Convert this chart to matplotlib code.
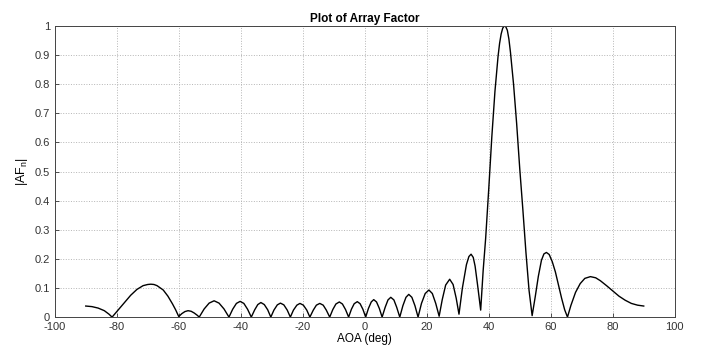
import matplotlib
matplotlib.use("Agg")
import matplotlib.pyplot as plt

aoa = [
    -90, -88, -86, -84, -82.5, -81.5,
    -79.5, -77.5, -75.5, -73.5, -71.5, -70, -69, -68, -67, -65, -63.5, -62, -61, -60,
    -59, -58, -57, -56, -55, -54, -53.4,
    -51.8, -50.2, -48.6, -47, -45.4, -43.8,
    -42.6, -41.4, -40.2, -39.0, -37.8, -36.6,
    -35.5, -34.5, -33.5, -32.4, -31.3, -30.3,
    -29.3, -28.2, -27.2, -26.1, -25, -24,
    -23, -21.9, -20.9, -19.8, -18.7, -17.7,
    -16.6, -15.6, -14.5, -13.4, -12.4, -11.3,
    -10.3, -9.3, -8.2, -7.2, -6.2, -5.2,
    -4.3, -3.4, -2.4, -1.5, -0.6, 0.3,
    1.2, 2.1, 2.9, 3.8, 4.7, 5.6,
    6.6, 7.5, 8.4, 9.4, 10.3, 11.3,
    12.3, 13.3, 14.2, 15.2, 16.2, 17.2,
    18.3, 19.5, 20.7, 21.8, 22.9, 24,
    25, 26.1, 27.4, 28.5, 29.5, 30.4,
    31.5, 32.8, 33.6, 34.3, 35.0, 35.6, 36.4, 37.4,
    38.2, 39, 40, 41, 42, 43, 43.5, 44, 44.5, 45, 45.5, 46, 46.5, 47, 48, 49, 50, 51, 52, 53, 54,
    55, 56, 57, 57.8, 58.6, 59.5, 60.5, 61.5, 62.5, 63.5, 64.5, 65.4,
    66.5, 68, 69.5, 71, 72.8, 74.5, 76, 78, 80, 82, 84, 86, 88, 90,
]
af = [
    0.038, 0.036, 0.031, 0.022, 0.010, 0.0,
    0.025, 0.050, 0.075, 0.095, 0.108, 0.112, 0.113, 0.112, 0.108, 0.093, 0.072, 0.045, 0.025, 0.002,
    0.012, 0.019, 0.022, 0.020, 0.014, 0.006, 0.0,
    0.028, 0.048, 0.056, 0.048, 0.028, 0.0,
    0.027, 0.047, 0.054, 0.047, 0.027, 0.0,
    0.025, 0.043, 0.050, 0.043, 0.025, 0.0,
    0.024, 0.042, 0.048, 0.042, 0.024, 0.0,
    0.024, 0.041, 0.047, 0.041, 0.024, 0.0,
    0.024, 0.041, 0.047, 0.041, 0.024, 0.0,
    0.026, 0.045, 0.052, 0.045, 0.026, 0.0,
    0.027, 0.046, 0.053, 0.046, 0.027, 0.0,
    0.030, 0.052, 0.060, 0.052, 0.030, 0.0,
    0.034, 0.059, 0.068, 0.059, 0.034, 0.0,
    0.039, 0.068, 0.078, 0.068, 0.039, 0.0,
    0.047, 0.081, 0.093, 0.081, 0.047, 0.003,
    0.060, 0.110, 0.130, 0.112, 0.065, 0.010,
    0.100, 0.180, 0.208, 0.216, 0.205, 0.175, 0.110, 0.024,
    0.160, 0.270, 0.440, 0.620, 0.775, 0.895, 0.940, 0.972, 0.992, 1.0, 0.997, 0.985, 0.955, 0.910, 0.800, 0.665, 0.510, 0.370, 0.222, 0.092, 0.005,
    0.070, 0.140, 0.195, 0.217, 0.222, 0.215, 0.190, 0.155, 0.110, 0.065, 0.025, 0.0,
    0.040, 0.085, 0.115, 0.133, 0.139, 0.135, 0.125, 0.108, 0.090, 0.072, 0.058, 0.047, 0.041, 0.038,
]

x_ticks = [-100, -80, -60, -40, -20, 0, 20, 40, 60, 80, 100]
y_ticks = [0, 0.1, 0.2, 0.3, 0.4, 0.5, 0.6, 0.7, 0.8, 0.9, 1]
y_tick_labels = ["0", "0.1", "0.2", "0.3", "0.4", "0.5", "0.6", "0.7", "0.8", "0.9", "1"]

plt.rcParams['font.family'] = ['Liberation Sans', 'DejaVu Sans']

fig = plt.figure(figsize=(7.11, 3.5), dpi=100)
ax = fig.add_axes([0.077, 0.094, 0.872, 0.832])

ax.plot(aoa, af, color='black', linewidth=1.0)

ax.set_xlim(-100, 100)
ax.set_ylim(0, 1)
ax.set_xticks(x_ticks)
ax.set_xticklabels([str(t) for t in x_ticks])
ax.set_yticks(y_ticks)
ax.set_yticklabels(y_tick_labels)
ax.tick_params(direction='in', length=3, labelsize=8, colors='#333333', width=0.6)
ax.grid(True, linestyle=':', color='#b5b5b5', linewidth=0.7)
for s in ax.spines.values():
    s.set_color('#444444')
    s.set_linewidth(0.7)

ax.set_title('Plot of Array Factor', fontsize=8.5, fontweight='bold', pad=3)
ax.set_xlabel('AOA (deg)', fontsize=8.5, labelpad=1)
ax.set_ylabel('|AF$_\\mathregular{n}$|', fontsize=9, labelpad=3)

fig.savefig('out.png', dpi=100)
